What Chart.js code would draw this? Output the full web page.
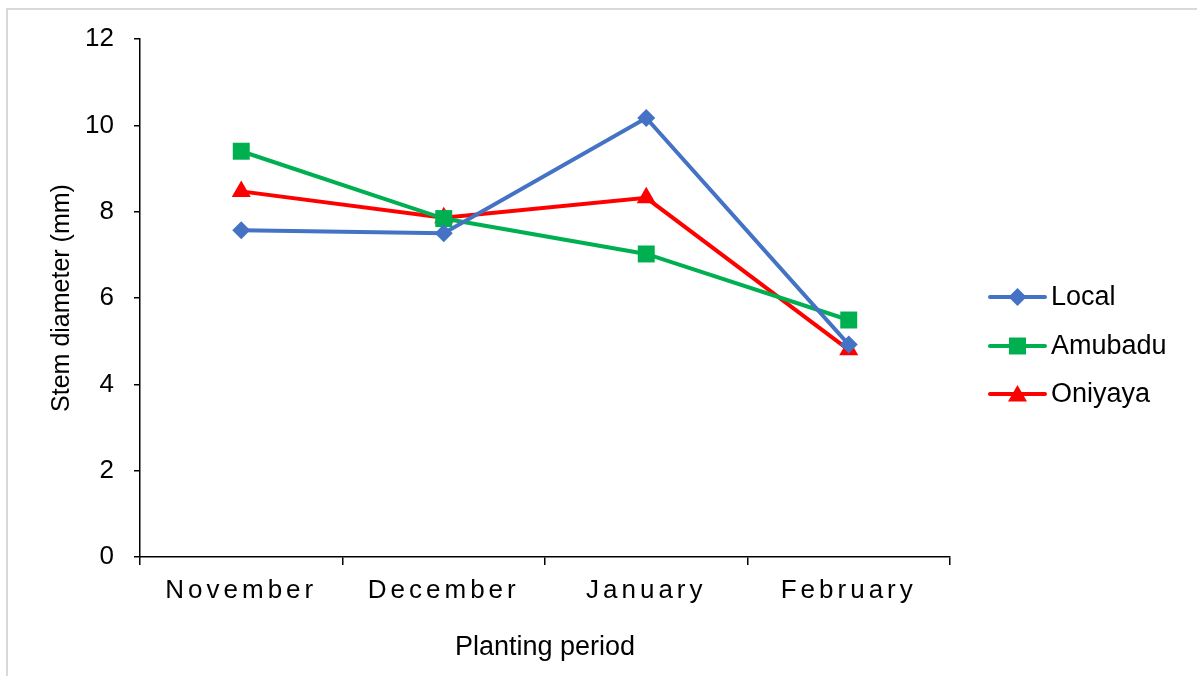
<!DOCTYPE html>
<html>
<head>
<meta charset="utf-8">
<script src="https://cdn.jsdelivr.net/npm/chart.js@4.4.1/dist/chart.umd.min.js"></script>
<style>
  html, body { margin: 0; padding: 0; background: #ffffff; overflow: hidden; }
  #wrap { position: relative; width: 1197px; height: 676px; }
  #frame { position: absolute; left: 6px; top: 8px; width: 1300px; height: 800px;
           border-top: 2px solid #d9d9d9; border-left: 2px solid #d9d9d9; }
  canvas { position: absolute; left: 0; top: 0; }
</style>
</head>
<body>
<div id="wrap">
  <div id="frame"></div>
  <canvas id="chart" width="1197" height="676"></canvas>
</div>
<script>
// Planting periods on the x axis
const periods = ['November', 'December', 'January', 'February'];

// Stem diameter (mm) per variety
const localValues   = [7.57, 7.50, 10.17, 4.92];
const amubaduValues = [9.40, 7.84, 7.02, 5.49];
const oniyayaValues = [8.47, 7.86, 8.32, 4.80];

const seriesNames  = ['Local', 'Amubadu', 'Oniyaya'];
const seriesColors = ['#4472C4', '#00B050', '#FF0000'];
const seriesShapes = ['rectRot', 'rect', 'triangle'];
const seriesRadii  = [9, 12, 11];

// Y axis range
const yMin = 0, yMax = 12, yStep = 2;

const FONT = "'Liberation Sans', Arial, sans-serif";

const seriesValues = [localValues, amubaduValues, oniyayaValues];
const datasets = seriesNames.map((name, i) => ({
  label: name,
  data: seriesValues[i],
  borderColor: seriesColors[i],
  backgroundColor: seriesColors[i],
  borderWidth: 4,
  pointStyle: seriesShapes[i],
  pointRadius: seriesRadii[i],
  pointHoverRadius: seriesRadii[i],
  pointBorderWidth: 0,
  tension: 0,
  fill: false
}));

// Legend on the right: line sample with marker, then the series name
const sideLegend = {
  id: 'sideLegend',
  afterDraw(chart) {
    const ctx = chart.ctx;
    const x0 = 990, x1 = 1045, textX = 1051;
    const rowY = [297, 346, 394];
    ctx.save();
    seriesNames.forEach((name, i) => {
      const y = rowY[i];
      ctx.strokeStyle = seriesColors[i];
      ctx.lineWidth = 4;
      ctx.lineCap = 'round';
      ctx.beginPath();
      ctx.moveTo(x0, y);
      ctx.lineTo(x1, y);
      ctx.stroke();
      ctx.fillStyle = seriesColors[i];
      Chart.helpers.drawPoint(ctx, {
        pointStyle: seriesShapes[i],
        radius: seriesRadii[i],
        borderWidth: 0,
        rotation: 0
      }, (x0 + x1) / 2, seriesShapes[i] === 'triangle' ? y + 2 : y);
      ctx.fillStyle = '#000000';
      ctx.font = '27px ' + FONT;
      ctx.textAlign = 'left';
      ctx.textBaseline = 'middle';
      ctx.fillText(name, textX, y + 1);
    });
    ctx.restore();
  }
};

// Wider letter spacing for the month labels
const spacedMonthLabels = {
  id: 'spacedMonthLabels',
  beforeDraw(chart) {
    const xs = chart.scales.x;
    if (xs && !xs._spaced) {
      const orig = xs.drawLabels;
      xs.drawLabels = function (area) {
        this.ctx.save();
        this.ctx.letterSpacing = '4px';
        orig.call(this, area);
        this.ctx.restore();
      };
      xs._spaced = true;
    }
  }
};

new Chart(document.getElementById('chart'), {
  type: 'line',
  data: { labels: periods, datasets },
  plugins: [spacedMonthLabels, sideLegend],
  options: {
    responsive: false,
    animation: false,
    events: [],
    layout: { padding: { top: 39, right: 247, bottom: 0, left: 0 } },
    plugins: { legend: { display: false }, tooltip: { enabled: false } },
    scales: {
      x: {
        type: 'category',
        offset: true,
        afterFit(scale) { scale.height = 119; },
        grid: { offset: true, drawOnChartArea: false, drawTicks: true, tickLength: 8, color: '#000000', lineWidth: 1.5 },
        border: { display: true, color: '#000000', width: 1.5 },
        ticks: { color: '#000000', font: { family: FONT, size: 26 }, padding: 10, maxRotation: 0, autoSkip: false },
        title: { display: true, text: 'Planting period', color: '#000000', font: { family: FONT, size: 27 }, padding: { top: 0, bottom: 12 } }
      },
      y: {
        min: yMin,
        max: yMax,
        afterFit(scale) { scale.width = 140; },
        grid: { drawOnChartArea: false, drawTicks: true, tickLength: 6, color: '#000000', lineWidth: 1.5 },
        border: { display: true, color: '#000000', width: 1.5 },
        ticks: { stepSize: yStep, color: '#000000', font: { family: FONT, size: 26 }, padding: 20 },
        title: { display: true, text: 'Stem diameter (mm)', color: '#000000', font: { family: FONT, size: 25 }, padding: { top: 47, bottom: 0 } }
      }
    }
  }
});
</script>
</body>
</html>
